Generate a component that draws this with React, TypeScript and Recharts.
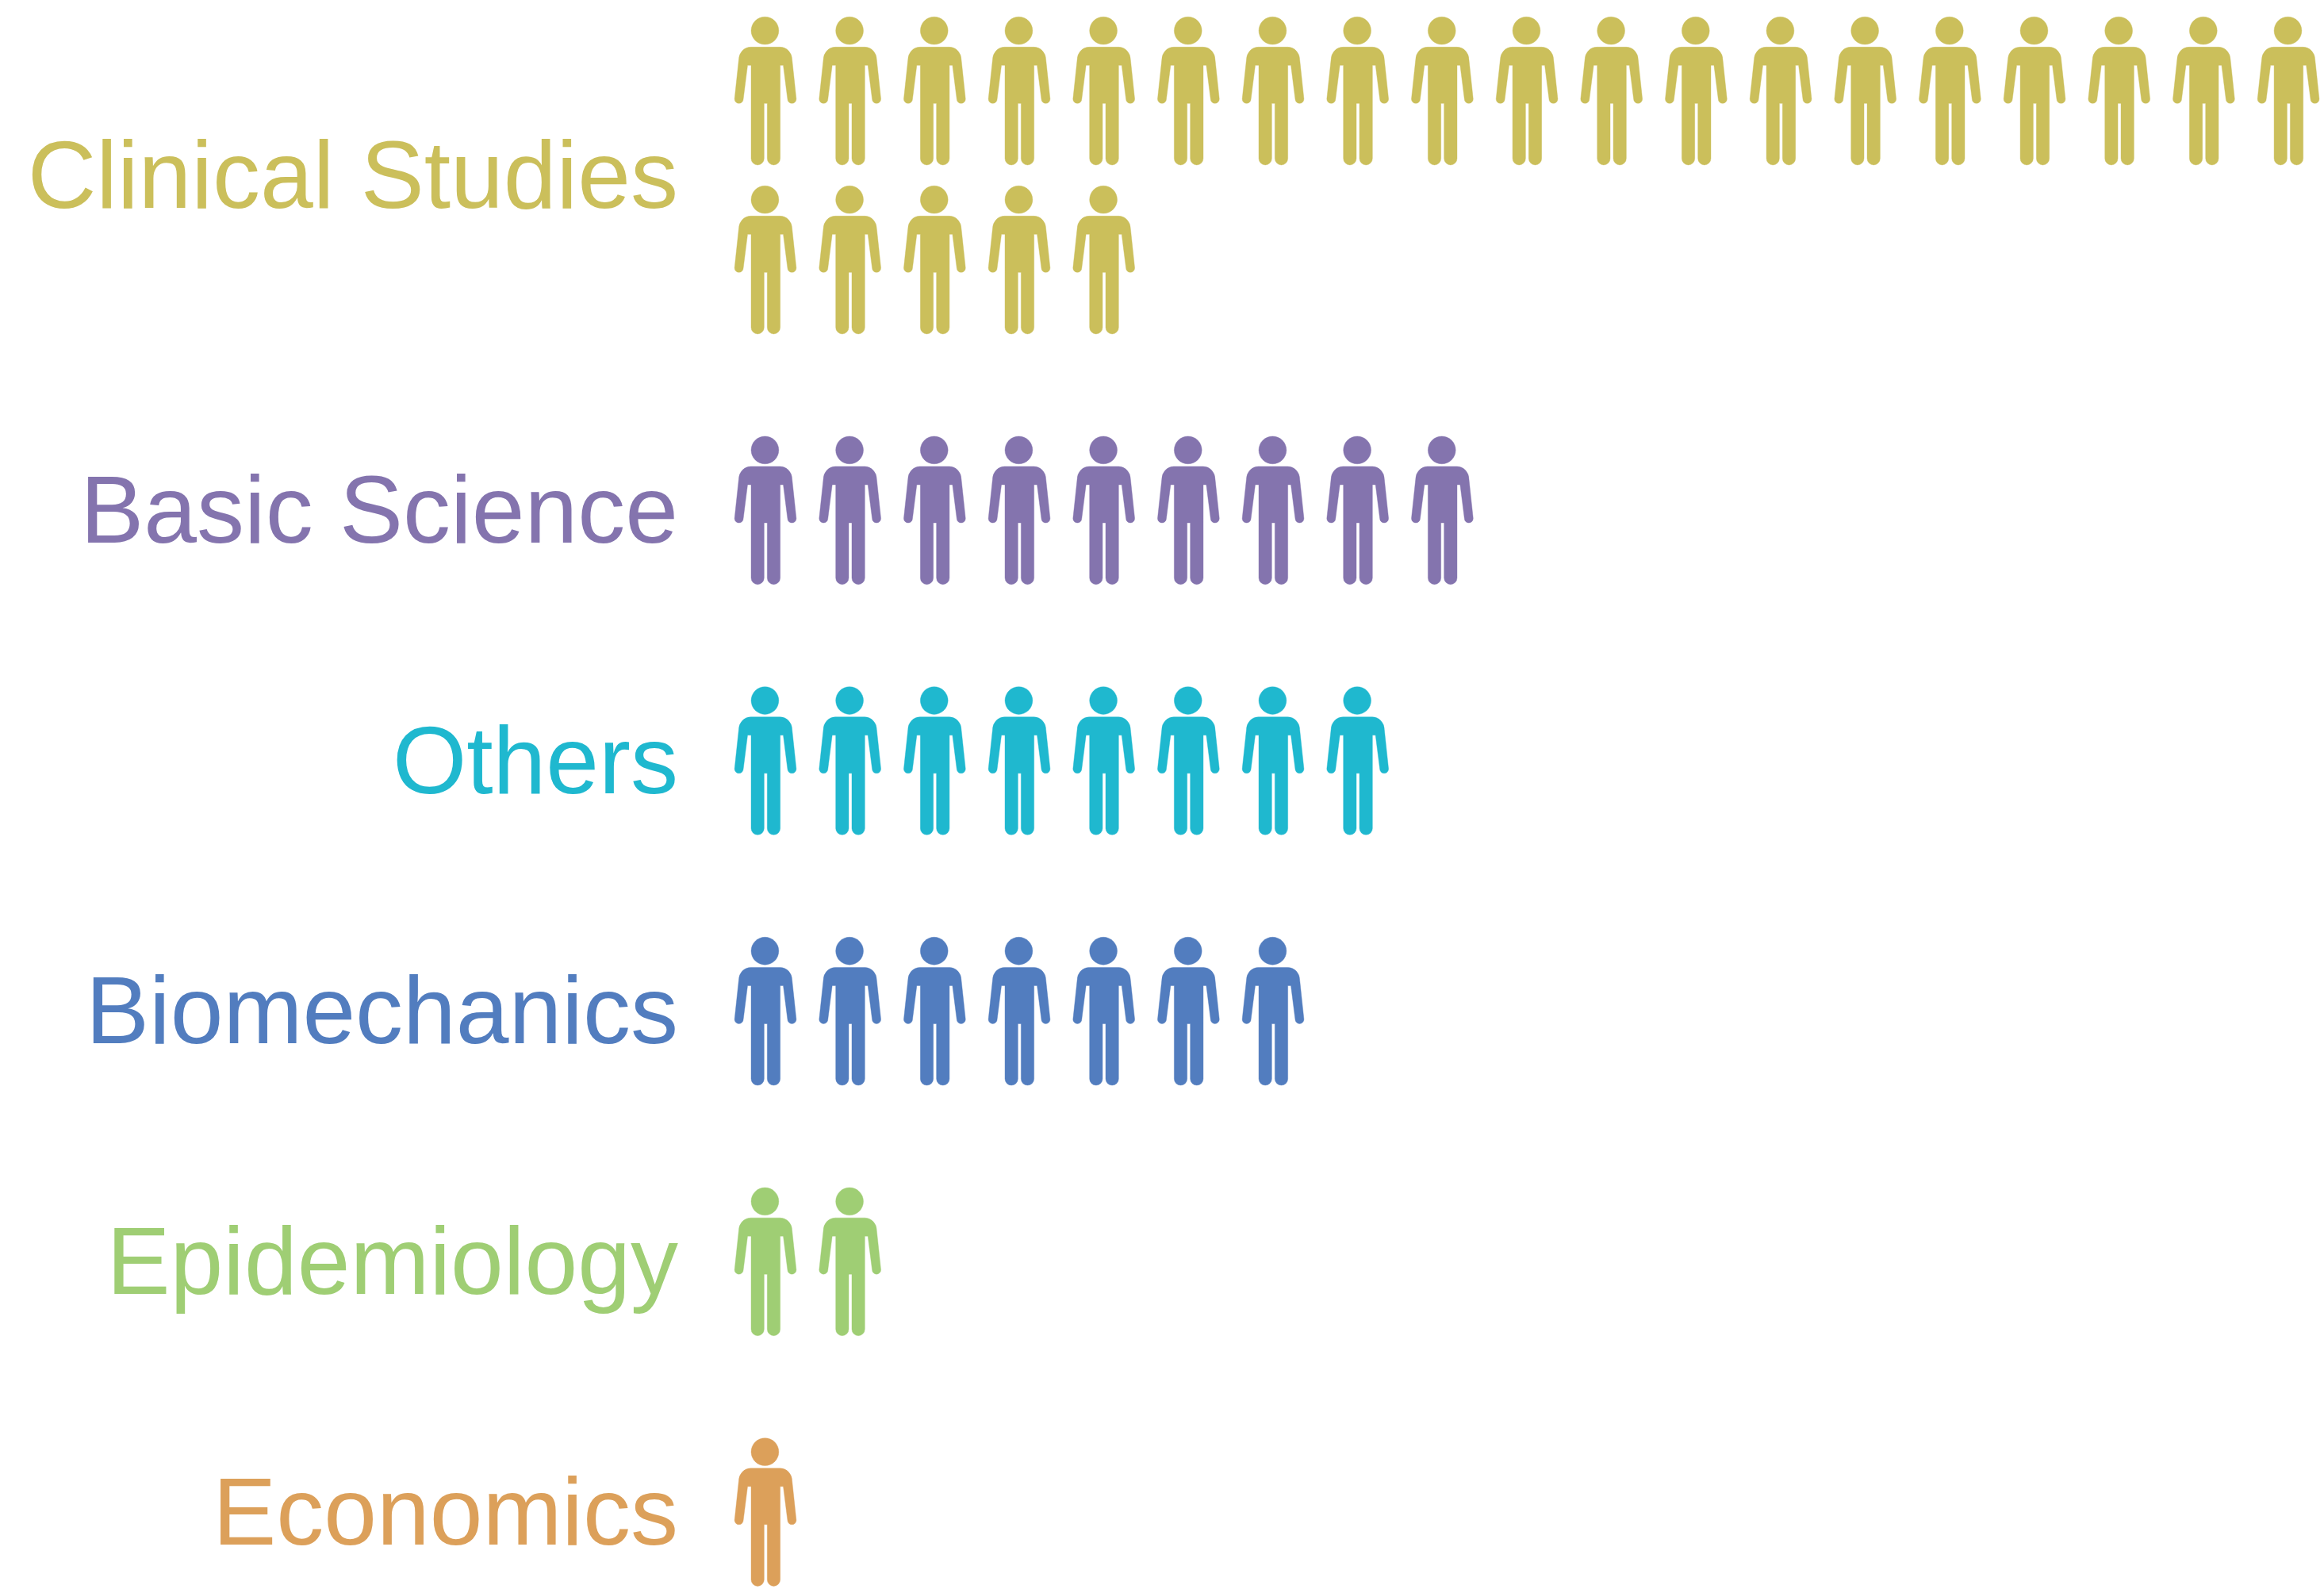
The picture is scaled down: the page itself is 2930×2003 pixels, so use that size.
import React from "react";
import { ScatterChart, Scatter, XAxis, YAxis } from "recharts";

const categories = ["Clinical Studies", "Basic Science", "Others", "Biomechanics", "Epidemiology", "Economics"];
const counts = [24, 9, 8, 7, 2, 1];
const colors = ["#CBBF5B", "#8474AE", "#1FB8CF", "#527DBF", "#9FCE74", "#DCA05A"];

const PER_LINE = 19;
const WRAP_GAP = 0.6747;

type Pt = { col: number; line: number };

let cursor = 0;
const tickValues: number[] = [];
const seriesPoints: Pt[][] = counts.map((n) => {
  const lines = Math.ceil(n / PER_LINE);
  const pts: Pt[] = [];
  for (let k = 0; k < n; k++) {
    pts.push({ col: k % PER_LINE, line: cursor + Math.floor(k / PER_LINE) * WRAP_GAP });
  }
  tickValues.push(cursor + ((lines - 1) * WRAP_GAP) / 2);
  cursor += (lines - 1) * WRAP_GAP + 1;
  return pts;
});

const BODY =
  "M0 -55 H18.5 A15 16 0 0 1 33.6 -39 L38.9 10.5 A5.5 5.5 0 0 1 27.9 10.5 L22.5 -32 H18.6 V85.45 A8.15 8.15 0 0 1 2.3 85.45 V16 " +
  "H-1.7 V85.45 A8.15 8.15 0 0 1 -18 85.45 V-32 H-22.5 L-27.9 10.5 A5.5 5.5 0 0 1 -38.9 10.5 L-33.6 -39 A15 16 0 0 1 -18.5 -55 Z";

const person = (fill: string) => (props: any) => {
  const { cx, cy } = props;
  return (
    <g transform={`translate(${cx},${cy})`} fill={fill} stroke={fill} strokeWidth={1} strokeOpacity={0.4}>
      <circle cx={-0.6} cy={-75.7} r={17.4} />
      <path d={BODY} />
    </g>
  );
};

const CategoryTick = (props: any) => {
  const { y, index } = props;
  return (
    <text
      x={855}
      y={y + 41}
      textAnchor="end"
      fontFamily="'Liberation Sans', Arial, sans-serif"
      fontSize={120}
      fill={colors[index]}
    >
      {categories[index]}
    </text>
  );
};

export default function App() {
  return (
    <div style={{ position: "absolute", left: 0, top: 0, width: 2930, height: 2003, background: "#fff" }}>
      <ScatterChart width={2930} height={2003} margin={{ top: 0, right: 0, bottom: 0, left: 0 }}>
        <XAxis type="number" dataKey="col" domain={[-0.797, 18.421]} hide />
        <YAxis
          type="number"
          dataKey="line"
          width={880}
          reversed
          domain={[-0.3622, 5.9825]}
          ticks={tickValues}
          interval={0}
          axisLine={false}
          tickLine={false}
          tick={CategoryTick}
          allowDataOverflow
        />
        {categories.map((name, i) => (
          <Scatter
            key={name}
            name={name}
            data={seriesPoints[i]}
            fill={colors[i]}
            shape={person(colors[i])}
            isAnimationActive={false}
          />
        ))}
      </ScatterChart>
    </div>
  );
}
